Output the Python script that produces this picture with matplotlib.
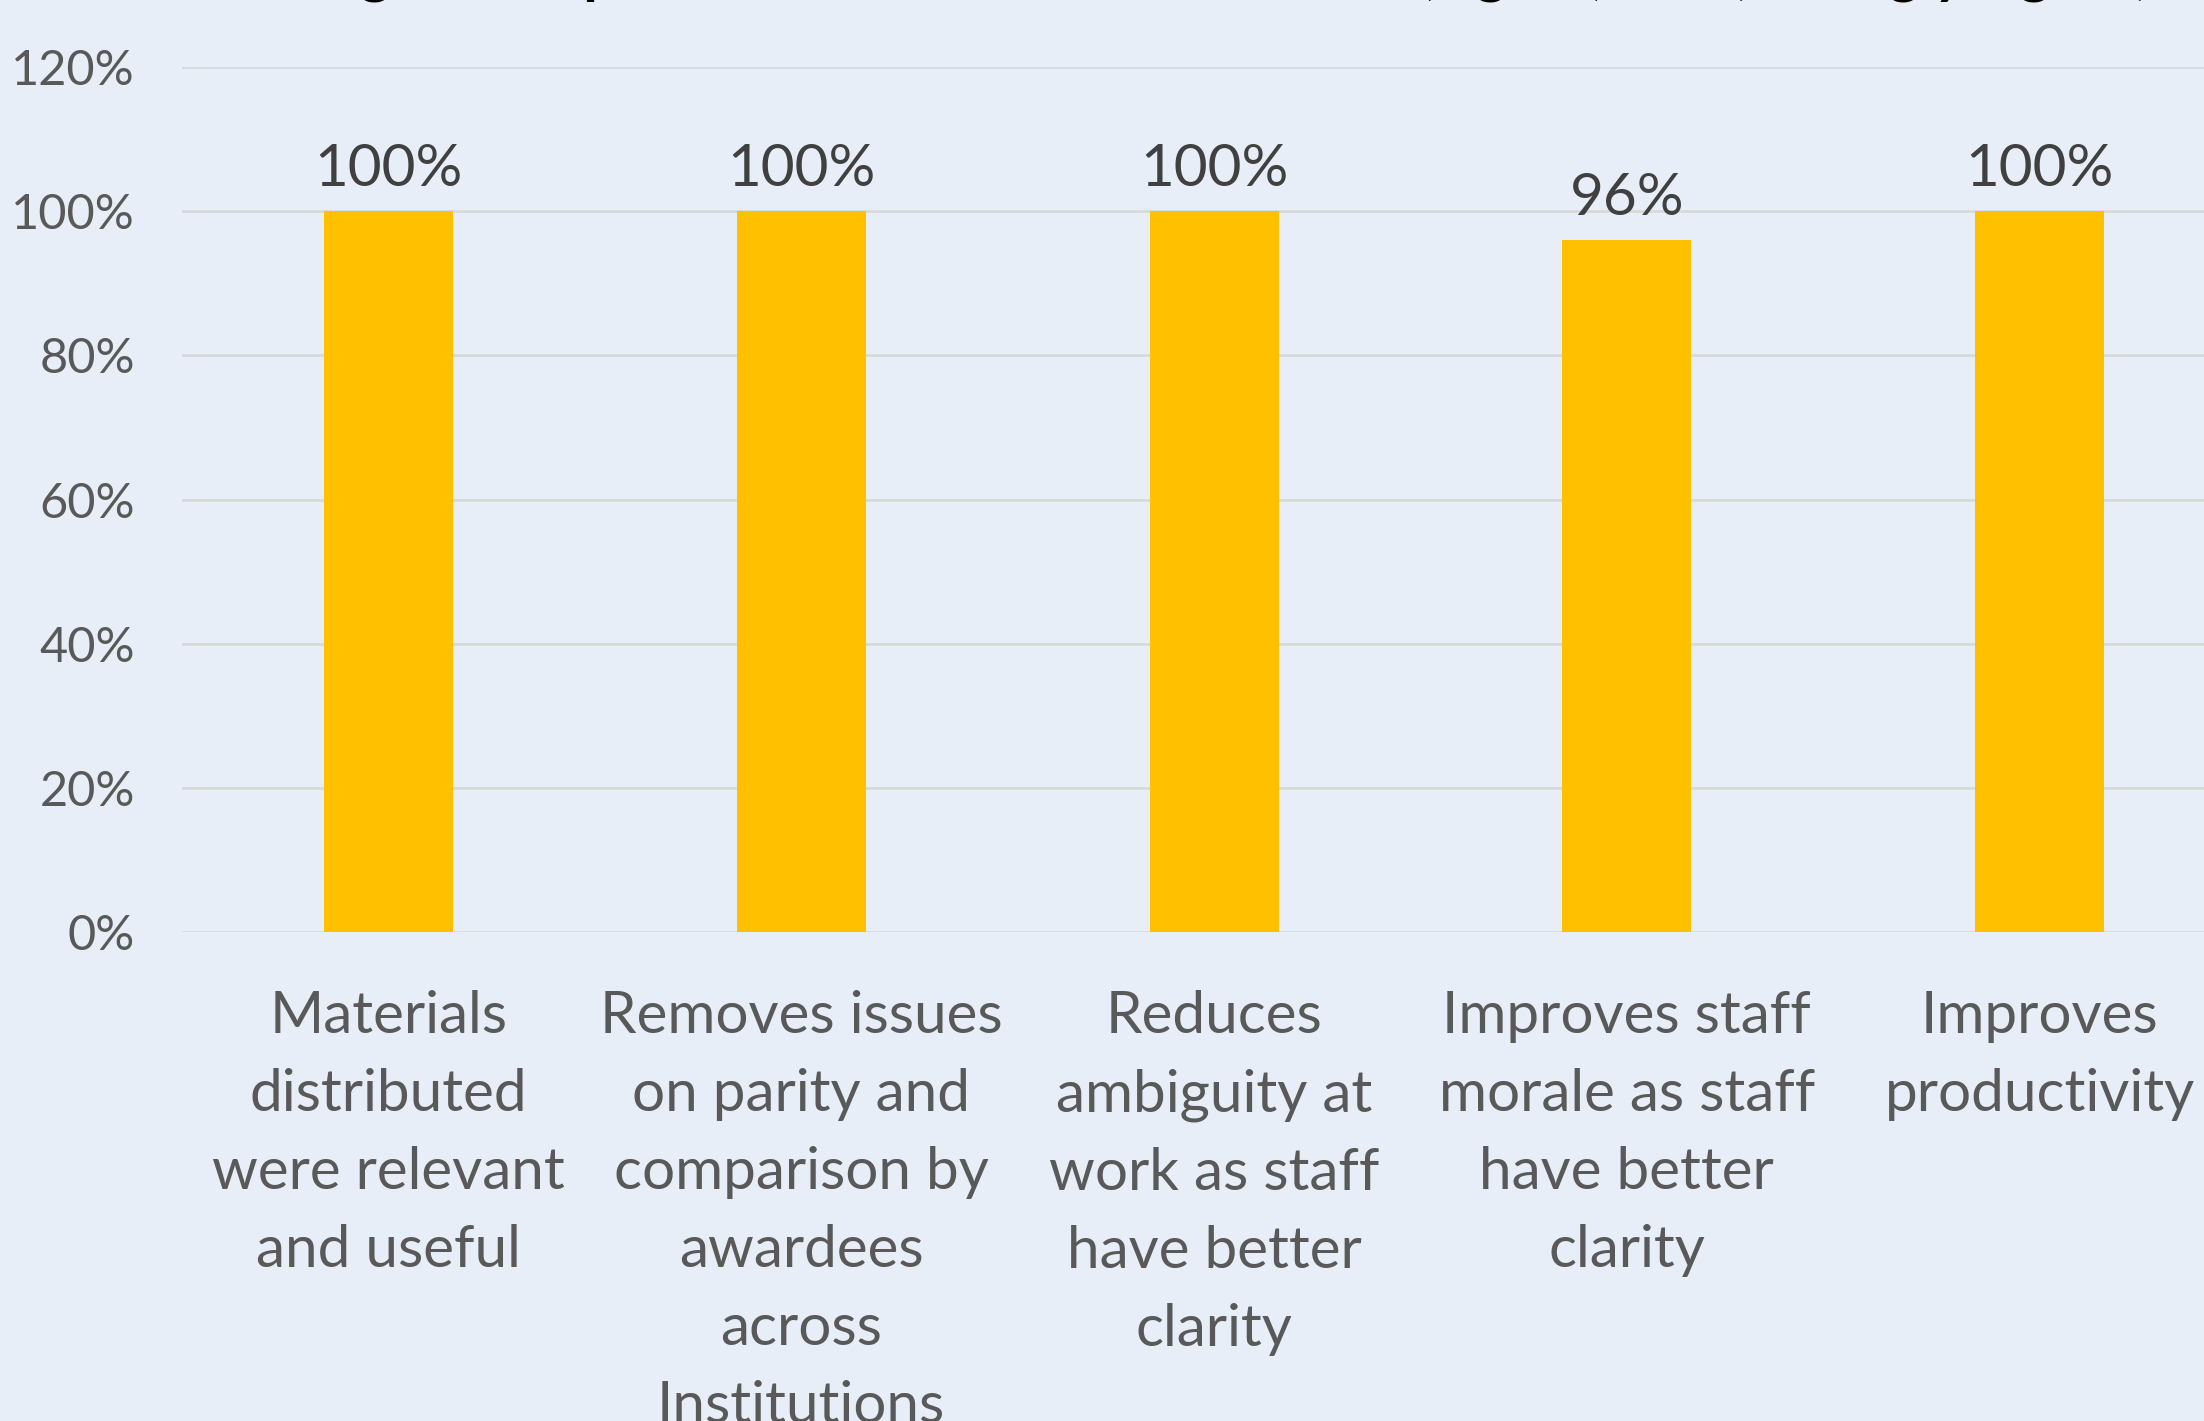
import numpy as np
import matplotlib.pyplot as plt
from matplotlib.ticker import PercentFormatter

categories = [
    "Materials\ndistributed\nwere relevant\nand useful",
    "Removes issues\non parity and\ncomparison by\nawardees\nacross\nInstitutions",
    "Reduces\nambiguity at\nwork as staff\nhave better\nclarity",
    "Improves staff\nmorale as staff\nhave better\nclarity",
    "Improves\nproductivity",
]
values = [100, 100, 100, 96, 100]
yticks = [0, 20, 40, 60, 80, 100, 120]
title = "Percentage of respondents in the Service Charter (Agree) and (Strongly Agree)"

bg = "#E8EEF7"
plt.rcParams['font.family'] = ['Lato', 'DejaVu Sans']

fig = plt.figure(figsize=(22.04, 14.21), dpi=100, facecolor=bg)
ax = fig.add_axes([182 / 2204, 1 - 932 / 1421, 2064 / 2204, 865 / 1421])
ax.set_facecolor(bg)

x = np.arange(len(categories))
bars = ax.bar(x, values, width=0.3125, color="#FFC000", zorder=3)
ax.set_xlim(-0.5, len(categories) - 0.5)
ax.set_ylim(0, 120)
ax.set_yticks(yticks)
ax.yaxis.set_major_formatter(PercentFormatter(decimals=0))
ax.grid(axis="y", color="#D9D9D9", linewidth=2, zorder=0)
for s in ax.spines.values():
    s.set_visible(False)
ax.tick_params(axis="y", length=0, labelsize=35, labelcolor="#595959", pad=34)
ax.tick_params(axis="x", length=0, labelsize=42, labelcolor="#595959", pad=42)
ax.set_xticks(x)
ax.set_xticklabels(categories, linespacing=1.58, va="top")

for b, v in zip(bars, values):
    ax.annotate(f"{v}%", (b.get_x() + b.get_width() / 2, v), xytext=(0, 11),
                textcoords="offset points", ha="center", va="bottom",
                fontsize=42, color="#404040")

fig.text(2150 / 2204, 1 + 8 / 1421, title, ha="right", va="baseline",
         fontsize=42, fontweight="bold", color="black")

fig.savefig("out.png", facecolor=bg)
